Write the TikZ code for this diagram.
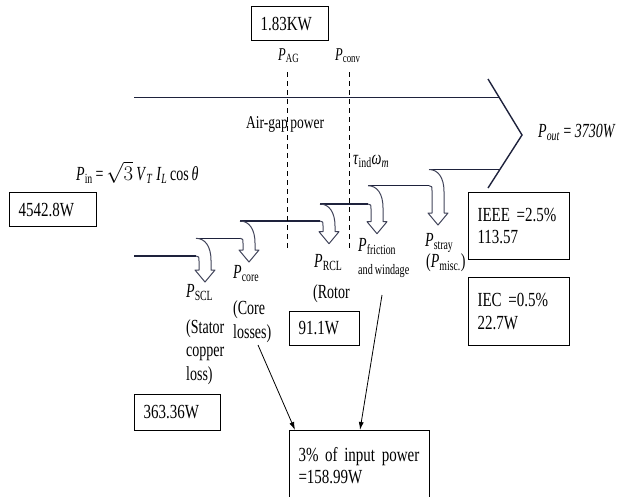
\documentclass[tikz,border=0pt]{standalone}
\usepackage{fontspec}
\setmainfont{Liberation Serif}[FakeStretch=0.75,WordSpace=0.75]
\newfontfamily\lblfont{Liberation Serif}[FakeStretch=0.7,WordSpace=0.8]
\usetikzlibrary{arrows.meta}
\definecolor{flowline}{RGB}{30,34,60}
\tikzset{>={Latex[length=8pt,width=5pt]}}
\newcommand\Pw[1]{\textit{P}\textsubscript{#1}}

\begin{document}
\begin{tikzpicture}[x=1pt,y=-1pt,
  valbox/.style={draw,line width=1pt,inner xsep=9pt,anchor=north west,align=left,
    fill=white,text width=#1,font=\fontsize{20}{22.5}\selectfont},
  lbl/.style={inner sep=0pt,anchor=base west,align=left,font=\lblfont\fontsize{20}{23.5}\selectfont},
  small/.style={inner sep=0pt,anchor=base west,font=\lblfont\fontsize{14.5}{16}\selectfont},
  flow/.style={flowline,line width=1.4pt},
  tube/.style={flowline!85,line width=1pt,line join=round},
  gap/.style={dash pattern=on 5pt off 4pt,line width=0.8pt}]
  \clip (0,0) rectangle (620,496);

  % power band
  \draw[flow] (134,97.5) -- (500,97.5);
  \draw[flow] (488,79) -- (522,135) -- (488,188);
  \foreach \xa/\xb/\y in {134/196/256,196/240/238.3,240/320/221,320/368/204,368/429/185.7,429/500/169.5}
    \draw[flow] (\xa,\y) -- (\xb,\y);
  % loss arrows
  \foreach \xc/\yh/\yl/\yb in {196/238.3/256/270,240/221/238.3/250,320/204/221/231.7,368/185.7/204/221.7,429/169.5/185.7/213}
    \draw[tube] (\xc,\yl) .. controls (\xc+3,\yl) and (\xc+3,\yl+1) .. (\xc+3,\yl+5)
      -- (\xc+3,\yb) -- (\xc-1,\yb) -- (\xc+9,\yb+12) -- (\xc+19,\yb) -- (\xc+15,\yb)
      -- (\xc+15,\yh+22) .. controls (\xc+15,\yh+8) and (\xc+9,\yh) .. (\xc,\yh);

  % air gap and conversion
  \node[lbl,font=\lblfont\fontsize{18}{20}\selectfont] (pag) at (278,60) {\Pw{AG}};
  \node[lbl,font=\lblfont\fontsize{18}{20}\selectfont] (pconv) at (335,60) {\Pw{conv}};
  \draw[gap] (287.3,72) -- (287.3,250);
  \draw[gap] (349.3,72) -- (349.3,250);
  \node[lbl,font=\fontsize{18}{20}\selectfont] (airgap) at (246,128.3) {Air-gap power};
  \node[lbl] (tau) at (353,164) {\textit{τ}\textsubscript{ind}\textit{ω}\textsubscript{\textit{m}}};
  \node[lbl] (pin) at (76,180) {\Pw{in} = $\sqrt{3}$\,\textit{V}\textsubscript{\textit{T}}\,\textit{I}\textsubscript{\textit{L}} cos \textit{θ}};
  \node[lbl] (pout) at (538,137) {\textit{P\textsubscript{out} = 3730W}};

  % losses (multi-line labels sit on their last baseline)
  \node[lbl] (scl) at (186,297) {\Pw{SCL}};
  \node[lbl] (scltxt) at (186,380) {(Stator\\copper\\loss)};
  \node[lbl] (core) at (233,278.5) {\Pw{core}};
  \node[lbl] (coretxt) at (233,338) {(Core\\losses)};
  \node[lbl] (rcl) at (314,267) {\Pw{RCL}};
  \node[lbl] (rcltxt) at (313,298.3) {(Rotor};
  \node[lbl] (fw) at (358,251) {\Pw{friction}};
  \node[small] (fwtxt) at (358,274.3) {and windage};
  \node[lbl] (stray) at (425,246.7) {\Pw{stray}};
  \node[lbl] (strtxt) at (426,267.7) {(\Pw{misc.})};

  % values
  \node[valbox=59pt,minimum height=34pt] (agbox) at (251,6) {1.83KW};
  \node[valbox=69pt,minimum height=34pt] (pinbox) at (9,192) {4542.8W};
  \node[valbox=68pt,minimum height=36pt] (sclbox) at (134,394) {363.36W};
  \node[valbox=52pt,minimum height=34pt] (rclbox) at (289,311) {91.1W};
  \node[valbox=83pt,minimum height=67pt] (ieeebox) at (468,192) {IEEE =2.5\%\\113.57};
  \node[valbox=83pt,minimum height=68pt] (iecbox) at (468,277) {IEC =0.5\%\\22.7W};
  \node[valbox=122pt,minimum height=70pt] (mechbox) at (289,430) {3\% of input power\\=158.99W};

  \coordinate (coretail) at (258,345);
  \coordinate (fwtail) at (382,295);
  \draw[->,line width=0.8pt] (coretail) -- ([xshift=6pt]mechbox.north west);
  \draw[->,line width=0.8pt] (fwtail) -- ([xshift=71pt]mechbox.north west);
\end{tikzpicture}
\end{document}
